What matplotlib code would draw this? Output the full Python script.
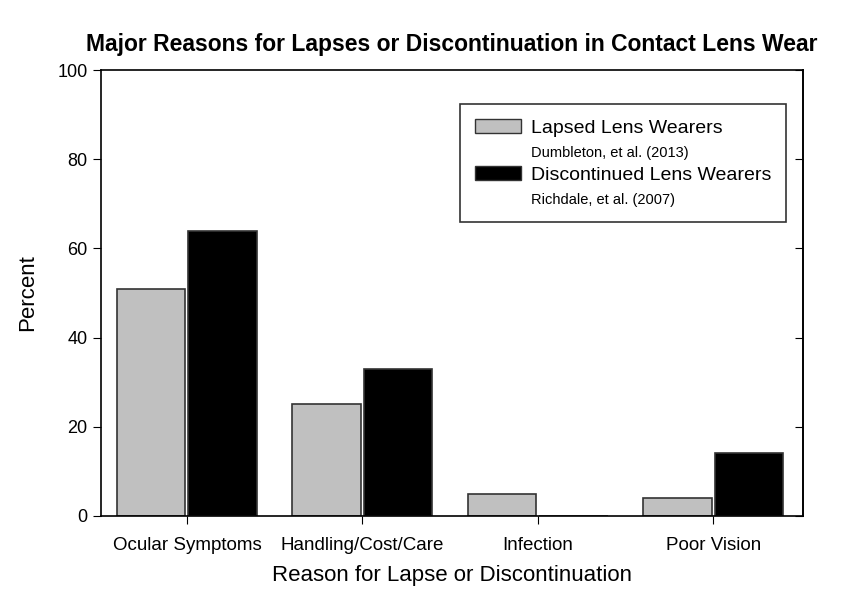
import matplotlib.pyplot as plt
import matplotlib.patches as mpatches
import numpy as np

plt.rcParams['font.family'] = ['Liberation Sans', 'DejaVu Sans']

categories = ['Ocular Symptoms', 'Handling/Cost/Care', 'Infection', 'Poor Vision']
lapsed = [51, 25, 5, 4]
discontinued = [64, 33, 0, 14]

x = np.arange(len(categories))
w = 0.39
gap = 0.009

fig = plt.figure(figsize=(8.55, 5.95), dpi=100)
ax = fig.add_axes([0.118, 0.133, 0.821, 0.749])

ax.bar(x - w / 2 - gap, lapsed, w, color='#c0c0c0', edgecolor='#333333', linewidth=1.2)
ax.bar(x + w / 2 + gap, discontinued, w, color='black', edgecolor='#333333', linewidth=1.2)

ax.set_xlim(-0.49, 3.51)
ax.set_ylim(0, 100)
ax.set_yticks([0, 20, 40, 60, 80, 100])
ax.set_xticks(x)
ax.set_xticklabels(categories, fontsize=13.5)
ax.tick_params(axis='y', labelsize=13, direction='out', length=6)
ax.tick_params(axis='x', direction='out', length=6, pad=9)
for s in ax.spines.values():
    s.set_linewidth(1.2)

# right side ticks point inward
sec = ax.secondary_yaxis('right')
sec.set_yticks([0, 20, 40, 60, 80, 100])
sec.tick_params(direction='in', length=6, labelright=False)
sec.spines['right'].set_linewidth(1.2)

ax.set_xlabel('Reason for Lapse or Discontinuation', fontsize=16, labelpad=8)
ax.set_ylabel('Percent', fontsize=16, labelpad=14)
ax.set_title('Major Reasons for Lapses or Discontinuation in Contact Lens Wear',
             fontsize=16.5, fontweight='bold', pad=14)

# legend with citations under each entry
empty = mpatches.Patch(color='none')
handles = [mpatches.Patch(facecolor='#c0c0c0', edgecolor='#333333'), empty,
           mpatches.Patch(facecolor='black', edgecolor='#333333'), empty]
labels = ['Lapsed Lens Wearers', 'Dumbleton, et al. (2013)',
          'Discontinued Lens Wearers', 'Richdale, et al. (2007)']
leg = ax.legend(handles, labels, loc='upper right', bbox_to_anchor=(0.976, 0.924),
                fontsize=14, frameon=True, fancybox=False, edgecolor='black',
                handlelength=2.4, handleheight=0.75, labelspacing=0.32,
                borderpad=0.75, handletextpad=0.5, borderaxespad=0)
leg.get_frame().set_linewidth(1.2)
for i in (1, 3):
    leg.get_texts()[i].set_fontsize(10.5)

plt.savefig('out.png', dpi=100)
